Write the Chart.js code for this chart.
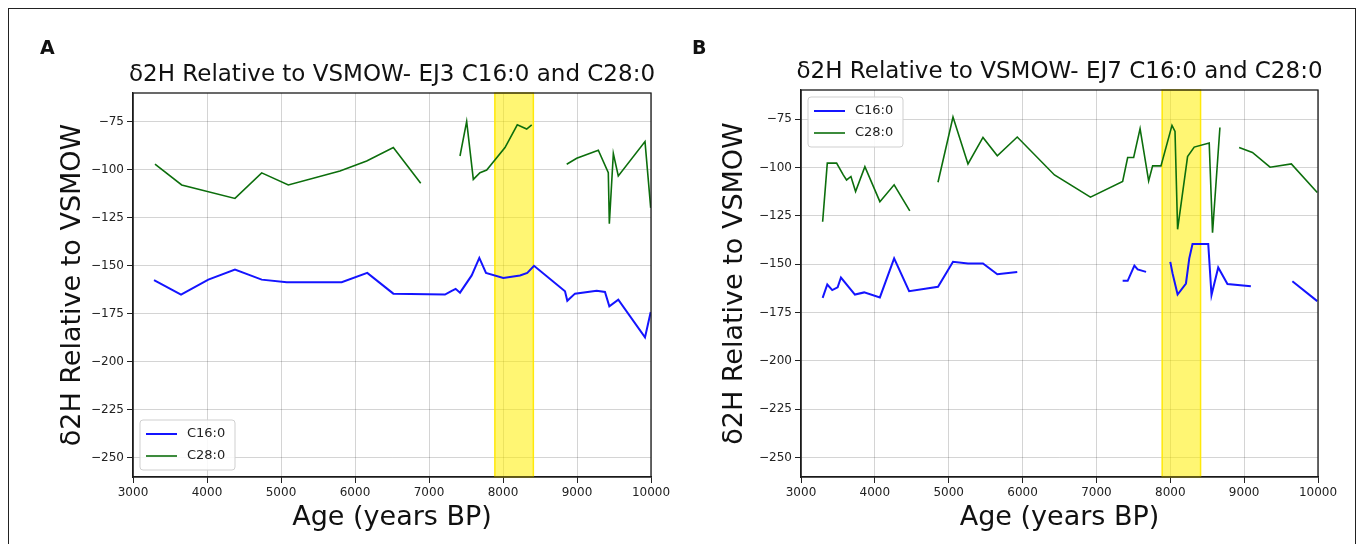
<!DOCTYPE html>
<html>
<head>
<meta charset="utf-8">
<script src="https://cdn.jsdelivr.net/npm/chart.js@4.4.1/dist/chart.umd.min.js"></script>
<style>
  html, body { margin: 0; padding: 0; background: #ffffff; }
  #wrap { position: relative; width: 1365px; height: 544px; overflow: hidden; background: #fff; }
  #frame { position: absolute; left: 8px; top: 8px; width: 1348px; height: 560px; border: 1.5px solid #222; box-sizing: border-box; }
  canvas { position: absolute; top: 0; }
  #cA { left: 0; }
  #cB { left: 683px; }
  .letter { position: absolute; font: bold 19px "DejaVu Sans", sans-serif; color: #111; }
</style>
</head>
<body>
<div id="wrap">
  <div id="frame"></div>
  <canvas id="cA" width="683" height="544"></canvas>
  <canvas id="cB" width="682" height="544"></canvas>
  <div class="letter" style="left:40px; top:36px;">A</div>
  <div class="letter" style="left:692px; top:36px;">B</div>
</div>
<script>
// ---------- data ----------
const ageTicks = [3000, 4000, 5000, 6000, 7000, 8000, 9000, 10000];
const valueTicks = [-250, -225, -200, -175, -150, -125, -100, -75];
const highlightAges = [7890, 8410];
const seriesNames = ['C16:0', 'C28:0'];
const titleA = 'δ2H Relative to VSMOW- EJ3 C16:0 and C28:0';
const titleB = 'δ2H Relative to VSMOW- EJ7 C16:0 and C28:0';
const xTitle = 'Age (years BP)';
const yTitle = 'δ2H Relative to VSMOW';

// EJ3 (panel A)
const ejA_c16_age = [3284, 3649, 4018, 4378, 4739, 5077, 5820, 6166, 6518, 7216, 7307, 7360, 7419, 7577, 7680, 7770, 8004, 8230, 8328, 8419, 8838, 8869, 8973, 9266, 9378, 9437, 9558, 9919, 9996];
const ejA_c16_val = [-157.5, -165, -157.2, -152, -157.2, -158.6, -158.6, -153.7, -164.5, -165, -163, -162, -164, -155, -145.9, -153.7, -156.3, -155, -153.7, -150, -163.3, -168.2, -164.5, -163, -163.6, -171.1, -167.6, -187.3, -174.1];
const ejA_c28_age = [3297, 3658, 4378, 4739, 5099, 5797, 6158, 6518, 6888, null, 7419, 7509, 7599, 7689, 7780, 8027, 8193, 8320, 8388, null, 8861, 8996, 9288, 9423, 9437, 9491, 9558, 9919, 9996];
const ejA_c28_val = [-97.1, -107.9, -114.9, -101.6, -107.9, -100.6, -95.4, -88.4, -107, null, -92.8, -74.8, -105, -101.5, -100.1, -88.4, -76.6, -78.8, -76.6, null, -97.1, -94, -89.8, -101.5, -128.1, -91.5, -103.2, -85.3, -119.8];

// EJ7 (panel B)
const ejB_c16_age = [3293, 3356, 3423, 3496, 3541, 3730, 3855, 4068, 4261, 4464, 4855, 5058, 5261, 5464, 5658, 5928, null, 7355, 7423, 7514, 7558, 7672, null, 8000, 8031, 8099, 8212, 8257, 8301, 8514, 8558, 8649, 8774, 9091, null, 9653, 9990];
const ejB_c16_val = [-167.4, -160.5, -163.4, -162, -156.9, -165.7, -164.6, -167.2, -147, -164, -161.7, -148.8, -149.6, -149.6, -155.2, -154, null, -158.6, -158.6, -150.8, -152.7, -154, null, -148.8, -154.8, -165.7, -160, -147, -139.6, -139.6, -166, -151.7, -160.3, -161.4, null, -158.8, -169.1];
const ejB_c28_age = [3293, 3356, 3482, 3572, 3617, 3676, 3739, 3865, 4068, 4261, 4473, null, 4855, 5058, 5261, 5464, 5658, 5928, 6432, 6919, 7355, 7423, 7504, 7591, 7707, 7761, 7874, 8023, 8064, 8099, 8234, 8324, 8527, 8572, 8672, null, 8932, 9112, 9351, 9639, 9990];
const ejB_c28_val = [-128.1, -97.8, -97.8, -103.9, -106.5, -104.7, -112.5, -99.6, -117.7, -109, -122.5, null, -107.7, -74, -98.2, -84.5, -94, -84.3, -103.9, -115.4, -107.3, -94.9, -94.9, -80, -107, -99.2, -99.2, -78.3, -81.4, -132, -94.4, -89.5, -87.4, -133.8, -79.4, null, -89.7, -92.3, -99.9, -98.2, -113];

// ---------- helpers ----------
const FONT = '"DejaVu Sans", sans-serif';
const toPoints = (ages, vals) => ages.map((a, i) => ({ x: a, y: vals[i] }));
const minus = (v) => String(v).replace('-', '\u2212');

const bandPlugin = {
  id: 'band',
  beforeDatasetsDraw(chart) {
    const { ctx, chartArea: ca, scales: { x } } = chart;
    const x1 = x.getPixelForValue(highlightAges[0]);
    const x2 = x.getPixelForValue(highlightAges[1]);
    ctx.save();
    ctx.fillStyle = 'rgba(255, 238, 0, 0.55)';
    ctx.fillRect(x1, ca.top, x2 - x1, ca.bottom - ca.top);
    ctx.strokeStyle = 'rgba(255, 232, 0, 0.95)';
    ctx.lineWidth = 1.5;
    ctx.strokeRect(x1, ca.top, x2 - x1, ca.bottom - ca.top);
    ctx.restore();
  }
};

const framePlugin = {
  id: 'frame',
  afterDatasetsDraw(chart, args, opts) {
    const { ctx, chartArea: ca } = chart;
    ctx.save();
    ctx.strokeStyle = '#1a1a1a';
    ctx.lineWidth = 1.3;
    ctx.strokeRect(ca.left, ca.top, ca.right - ca.left, ca.bottom - ca.top);
    // title centred on plot area
    ctx.fillStyle = '#111';
    ctx.font = '23px ' + FONT;
    ctx.textAlign = 'center';
    ctx.textBaseline = 'middle';
    ctx.fillText(opts.text, (ca.left + ca.right) / 2, ca.top - 18);
    ctx.restore();
  }
};

const legendPlugin = {
  id: 'boxLegend',
  afterDraw(chart, args, opts) {
    const { ctx, chartArea: ca } = chart;
    const w = 95, h = 50;
    const x0 = ca.left + 7;
    const y0 = opts.where === 'bottom' ? ca.bottom - 7 - h : ca.top + 7;
    ctx.save();
    ctx.beginPath();
    ctx.roundRect(x0, y0, w, h, 3);
    ctx.fillStyle = 'rgba(255,255,255,0.85)';
    ctx.fill();
    ctx.strokeStyle = '#cfcfcf';
    ctx.lineWidth = 1;
    ctx.stroke();
    ctx.font = '13px ' + FONT;
    ctx.textBaseline = 'middle';
    ctx.textAlign = 'left';
    chart.data.datasets.forEach((ds, i) => {
      const y = y0 + 14 + i * 22;
      ctx.beginPath();
      ctx.moveTo(x0 + 6, y);
      ctx.lineTo(x0 + 37, y);
      ctx.strokeStyle = ds.borderColor;
      ctx.lineWidth = ds.borderWidth;
      ctx.stroke();
      ctx.fillStyle = '#222';
      ctx.fillText(ds.label, x0 + 47, y);
    });
    ctx.restore();
  }
};

function makePanel(id, p) {
  return new Chart(document.getElementById(id), {
    type: 'line',
    data: {
      datasets: [
        { label: seriesNames[0], data: toPoints(p.c16a, p.c16v), borderColor: '#1414ff', borderWidth: 2, pointRadius: 0, tension: 0, spanGaps: false },
        { label: seriesNames[1], data: toPoints(p.c28a, p.c28v), borderColor: '#0c6e0c', borderWidth: 1.6, pointRadius: 0, tension: 0, spanGaps: false }
      ]
    },
    options: {
      responsive: false,
      animation: false,
      devicePixelRatio: 1,
      layout: { padding: { top: p.top, right: p.right, left: 0, bottom: 0 } },
      plugins: {
        legend: { display: false },
        tooltip: { enabled: false },
        frame: { text: p.title },
        boxLegend: { where: p.legend }
      },
      scales: {
        x: {
          type: 'linear', min: 3000, max: 10000,
          afterBuildTicks: (s) => { s.ticks = ageTicks.map(v => ({ value: v })); },
          afterFit: (s) => { s.height = 544 - p.bottom; },
          ticks: { callback: (v) => String(v), font: { family: FONT, size: 12 }, color: '#222', padding: 3, maxRotation: 0, autoSkip: false },
          grid: { color: 'rgba(0,0,0,0.17)', lineWidth: 1, tickColor: '#222', tickLength: 6 },
          border: { display: true, color: '#1a1a1a', width: 1.3 },
          title: { display: true, text: xTitle, font: { family: FONT, size: 27 }, color: '#111', padding: { top: 0, bottom: 10 } }
        },
        y: {
          type: 'linear', min: -260, max: -60,
          afterBuildTicks: (s) => { s.ticks = valueTicks.map(v => ({ value: v })); },
          afterFit: (s) => { s.width = p.yw; },
          ticks: { callback: (v) => minus(v), font: { family: FONT, size: 12 }, color: '#222', padding: 3, autoSkip: false },
          grid: { color: 'rgba(0,0,0,0.17)', lineWidth: 1, tickColor: '#222', tickLength: 6 },
          border: { display: true, color: '#1a1a1a', width: 1.3 },
          title: { display: true, text: yTitle, font: { family: FONT, size: 27 }, color: '#111', padding: { top: p.ytp, bottom: 0 } }
        }
      }
    },
    plugins: [bandPlugin, framePlugin, legendPlugin]
  });
}

makePanel('cA', { c16a: ejA_c16_age, c16v: ejA_c16_val, c28a: ejA_c28_age, c28v: ejA_c28_val,
  title: titleA, legend: 'bottom', top: 93, right: 32, bottom: 477, yw: 133, ytp: 57 });
makePanel('cB', { c16a: ejB_c16_age, c16v: ejB_c16_val, c28a: ejB_c28_age, c28v: ejB_c28_val,
  title: titleB, legend: 'top', top: 90, right: 47, bottom: 477, yw: 118, ytp: 36 });
</script>
</body>
</html>
